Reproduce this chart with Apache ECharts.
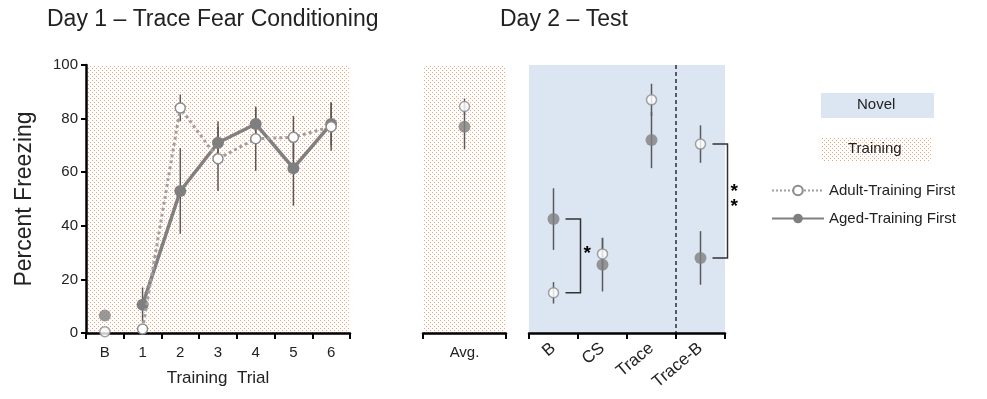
<!DOCTYPE html>
<html>
<head>
<meta charset="utf-8">
<script src="https://cdn.jsdelivr.net/npm/echarts@6/dist/echarts.min.js"></script>
<style>
  html, body { margin: 0; padding: 0; background: #fff; }
  #chart { width: 987px; height: 399px; }
</style>
</head>
<body>
<div id="chart"></div>
<script>
// Day 1 training
var trials = ['B', '1', '2', '3', '4', '5', '6'];
var adultTrain = [0.5, 1.5, 84, 65, 72.5, 73, 77];
var adultTrainErr = [0, 1, 5, 12, 12, 8, 9];
var agedTrain = [6.5, 10.5, 53, 71, 78, 61.5, 78];
var agedTrainErr = [0, 6.5, 16, 8, 6, 14, 8];

// Day 2 avg of training context
var avgCats = ['Avg.'];
var adultAvg = [84.5];
var adultAvgErr = [3];
var agedAvg = [77];
var agedAvgErr = [8.5];

// Day 2 novel context test
var testCats = ['B', 'CS', 'Trace', 'Trace-B'];
var adultTest = [15, 29.5, 87, 70.5];
var adultTestErr = [4, 6, 6, 7];
var agedTest = [42.5, 25.5, 72, 28];
var agedTestErr = [11.5, 10, 10.5, 10];

// significance brackets (category index, stars)
var sigCats = [0, 3];
var sigStars = ['*', '*\n*'];

var yMin = 0, yMax = 100, yStep = 20;

var TXT = '#222';
var FONT = 'Liberation Sans';

// orange dotted fill for "Training" context
var pat = document.createElement('canvas');
pat.width = 4; pat.height = 4;
var pctx = pat.getContext('2d');
pctx.fillStyle = '#f5a676';
pctx.fillRect(0, 0, 1, 1);
pctx.fillRect(2, 2, 1, 1);
var dotFill = { image: pat, repeat: 'repeat' };

function errData(vals, errs) {
  return vals.map(function (v, i) { return [i, v - errs[i], v + errs[i]]; });
}

function errItem(params, api) {
  var a = api.coord([api.value(0), api.value(1)]);
  var b = api.coord([api.value(0), api.value(2)]);
  return {
    type: 'line',
    shape: { x1: a[0], y1: a[1], x2: b[0], y2: b[1] },
    style: { stroke: '#595959', lineWidth: 1.5 }
  };
}

function bracketItem(params, api) {
  var cat = api.value(0);
  var p = api.coord([cat, api.value(1)]);
  var q = api.coord([cat, api.value(2)]);
  var x0 = p[0] + 12, x1 = p[0] + 27;
  return {
    type: 'group',
    children: [{
      type: 'polyline',
      shape: { points: [[x0, p[1]], [x1, p[1]], [x1, q[1]], [x0, q[1]]] },
      style: { stroke: '#333', lineWidth: 1.5, fill: null }
    }, {
      type: 'text',
      style: {
        x: x1 + 3, y: (p[1] + q[1]) / 2 - 2,
        text: sigStars[params.dataIndex],
        fill: '#000', font: 'bold 19px ' + FONT,
        align: 'left', verticalAlign: 'middle', lineHeight: 15
      }
    }]
  };
}

function dividerItem(params, api) {
  var a = api.coord([api.value(0), 0]);
  var b = api.coord([api.value(1), 0]);
  var x = (a[0] + b[0]) / 2;
  var cs = params.coordSys;
  return {
    type: 'line',
    shape: { x1: x, y1: cs.y, x2: x, y2: cs.y + cs.height },
    style: { stroke: '#000', lineWidth: 1.2, lineDash: [4, 3] }
  };
}

var openSym = { color: '#fff', borderColor: '#8c8c8c', borderWidth: 1.5 };
var fillSym = { color: '#7f7f7f' };

var chart = echarts.init(document.getElementById('chart'));

var xAxisBase = {
  type: 'category',
  axisLine: { lineStyle: { color: '#000', width: 2.5 } },
  axisTick: { show: true, length: 6, lineStyle: { color: '#000', width: 2 } },
  axisLabel: { color: TXT, fontSize: 15, fontFamily: FONT, margin: 12 }
};

chart.setOption({
  textStyle: { fontFamily: FONT },
  animation: false,
  title: [
    { text: 'Day 1 – Trace Fear Conditioning', left: 42, top: 3,
      textStyle: { fontSize: 23, fontWeight: 'normal', color: TXT, fontFamily: FONT } },
    { text: 'Day 2 – Test', left: 495, top: 3,
      textStyle: { fontSize: 23, fontWeight: 'normal', color: TXT, fontFamily: FONT } }
  ],
  legend: {
    data: ['Adult-Training First', 'Aged-Training First'],
    orient: 'vertical', left: 766, top: 178,
    itemWidth: 52, itemHeight: 12, itemGap: 13,
    textStyle: { fontSize: 15, color: TXT, fontFamily: FONT }
  },
  graphic: [
    { type: 'rect', left: 821, top: 93, shape: { width: 113, height: 25 }, style: { fill: '#dce6f2' } },
    { type: 'text', left: 857, top: 97, style: { text: 'Novel', fill: TXT, font: '15px ' + FONT } },
    { type: 'text', left: 848, top: 141, z: 10, style: { text: 'Training', fill: TXT, font: '15px ' + FONT } }
  ],
  grid: [
    { left: 86, top: 65, width: 264, height: 268, show: true, backgroundColor: dotFill, borderWidth: 0 },
    { left: 423, top: 65, width: 83, height: 268, show: true, backgroundColor: dotFill, borderWidth: 0 },
    { left: 529, top: 65, width: 196, height: 268, show: true, backgroundColor: '#dce6f2', borderWidth: 0 },
    // swatch for the "Training" legend box
    { left: 821, top: 137, width: 111, height: 25, show: true, backgroundColor: dotFill, borderWidth: 0 }
  ],
  xAxis: [
    Object.assign({}, xAxisBase, {
      gridIndex: 0, data: trials,
      name: 'Training  Trial', nameLocation: 'middle', nameGap: 37,
      nameTextStyle: { fontSize: 17, color: TXT, fontFamily: FONT }
    }),
    Object.assign({}, xAxisBase, { gridIndex: 1, data: avgCats }),
    Object.assign({}, xAxisBase, {
      gridIndex: 2, data: testCats,
      axisLabel: { color: TXT, fontSize: 17, fontFamily: FONT, margin: 13, rotate: 40 }
    }),
    { type: 'value', gridIndex: 3, show: false, splitLine: { show: false } }
  ],
  yAxis: [
    {
      type: 'value', gridIndex: 0, min: yMin, max: yMax, interval: yStep,
      name: 'Percent Freezing', nameLocation: 'middle', nameGap: 50,
      nameTextStyle: { fontSize: 23, color: TXT, fontFamily: FONT },
      axisLine: { show: true, lineStyle: { color: '#000', width: 2.5 } },
      axisTick: { show: true, length: 5, lineStyle: { color: '#000', width: 2 } },
      axisLabel: { color: TXT, fontSize: 15, fontFamily: FONT, margin: 8 },
      splitLine: { show: false }
    },
    { type: 'value', gridIndex: 1, min: yMin, max: yMax, show: false, splitLine: { show: false } },
    { type: 'value', gridIndex: 2, min: yMin, max: yMax, show: false, splitLine: { show: false } },
    { type: 'value', gridIndex: 3, show: false, splitLine: { show: false } }
  ],
  series: [
    // training lines (trial B not connected)
    {
      name: 'Adult-Training First', type: 'line', xAxisIndex: 0, yAxisIndex: 0, z: 4,
      data: adultTrain.map(function (v, i) { return i === 0 ? '-' : v; }),
      lineStyle: { color: '#a0a0a0', width: 3, type: 'dotted' },
      symbol: 'circle', symbolSize: 10, showAllSymbol: true,
      itemStyle: openSym
    },
    {
      name: 'Aged-Training First', type: 'line', xAxisIndex: 0, yAxisIndex: 0, z: 3,
      data: agedTrain.map(function (v, i) { return i === 0 ? '-' : v; }),
      lineStyle: { color: '#808080', width: 3.5 },
      symbol: 'circle', symbolSize: 12, showAllSymbol: true,
      itemStyle: fillSym
    },
    {
      type: 'scatter', xAxisIndex: 0, yAxisIndex: 0, z: 3, symbolSize: 12,
      data: [[0, agedTrain[0]]], itemStyle: fillSym
    },
    {
      type: 'scatter', xAxisIndex: 0, yAxisIndex: 0, z: 4, symbolSize: 10,
      data: [[0, adultTrain[0]]], itemStyle: openSym
    },
    { type: 'custom', xAxisIndex: 0, yAxisIndex: 0, z: 2, renderItem: errItem,
      data: errData(adultTrain, adultTrainErr) },
    { type: 'custom', xAxisIndex: 0, yAxisIndex: 0, z: 2, renderItem: errItem,
      data: errData(agedTrain, agedTrainErr) },

    // Avg. panel
    { type: 'custom', xAxisIndex: 1, yAxisIndex: 1, z: 2, renderItem: errItem,
      data: errData(adultAvg, adultAvgErr) },
    { type: 'custom', xAxisIndex: 1, yAxisIndex: 1, z: 2, renderItem: errItem,
      data: errData(agedAvg, agedAvgErr) },
    { type: 'scatter', xAxisIndex: 1, yAxisIndex: 1, z: 3, symbolSize: 12,
      data: agedAvg.map(function (v, i) { return [i, v]; }), itemStyle: fillSym },
    { type: 'scatter', xAxisIndex: 1, yAxisIndex: 1, z: 4, symbolSize: 10,
      data: adultAvg.map(function (v, i) { return [i, v]; }), itemStyle: openSym },

    // Test panel
    { type: 'custom', xAxisIndex: 2, yAxisIndex: 2, z: 1, renderItem: dividerItem,
      data: [[2, 3]] },
    { type: 'custom', xAxisIndex: 2, yAxisIndex: 2, z: 2, renderItem: errItem,
      data: errData(adultTest, adultTestErr) },
    { type: 'custom', xAxisIndex: 2, yAxisIndex: 2, z: 2, renderItem: errItem,
      data: errData(agedTest, agedTestErr) },
    { type: 'scatter', xAxisIndex: 2, yAxisIndex: 2, z: 3, symbolSize: 12,
      data: agedTest.map(function (v, i) { return [i, v]; }), itemStyle: fillSym },
    { type: 'scatter', xAxisIndex: 2, yAxisIndex: 2, z: 4, symbolSize: 10,
      data: adultTest.map(function (v, i) { return [i, v]; }), itemStyle: openSym },
    { type: 'custom', xAxisIndex: 2, yAxisIndex: 2, z: 2, renderItem: bracketItem, clip: false,
      data: sigCats.map(function (c) { return [c, adultTest[c], agedTest[c]]; }) }
  ]
});
</script>
</body>
</html>
